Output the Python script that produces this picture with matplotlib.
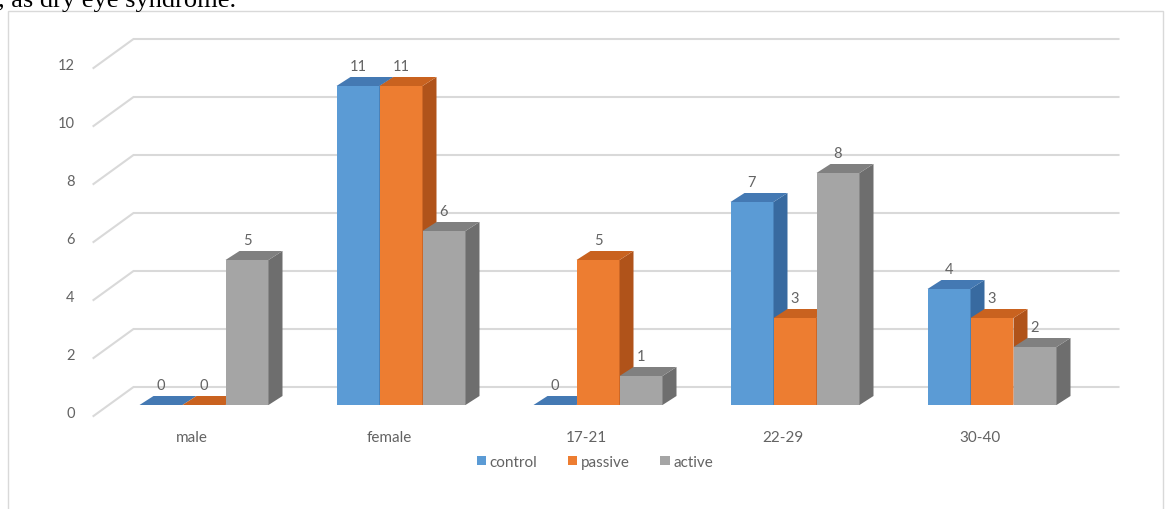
import matplotlib
matplotlib.use('Agg')
import matplotlib.pyplot as plt
from matplotlib.patches import Polygon, Rectangle, Patch

# ---- data ----
categories = ['male', 'female', '17-21', '22-29', '30-40']
series_names = ['control', 'passive', 'active']
control = [0, 11, 0, 7, 4]
passive = [0, 11, 5, 3, 3]
active = [5, 6, 1, 8, 2]
yticks = [0, 2, 4, 6, 8, 10, 12]

series = [control, passive, active]
front_colors = ['#5B9BD5', '#ED7D31', '#A5A5A5']
top_colors = ['#4479B3', '#C9621F', '#808080']
side_colors = ['#386AA0', '#B0531A', '#6E6E6E']
grid_color = '#D9D9D9'
text_color = '#636363'

plt.rcParams['font.family'] = ['Lato', 'DejaVu Sans']

W, H = 1168, 510
DPI = 100
fig = plt.figure(figsize=(W / DPI, H / DPI), dpi=DPI)
fig.patch.set_facecolor('white')

PX_X = 197.0   # pixels per category
PX_Y = 29.0    # pixels per value unit
X_LEFT = 93.5  # wall front edge (px)
Y_ZERO = 417   # value 0 at the front edge (px from top)

ax = fig.add_axes([X_LEFT / W, (H - Y_ZERO) / H, 5 * PX_X / W, 12 * PX_Y / H])
ax.set_xlim(-0.5, 4.5)
ax.set_ylim(0, 12)
ax.axis('off')


def dx(p):
    return p / PX_X


def dy(p):
    return p / PX_Y


FLOOR_DX, FLOOR_DY = dx(40), dy(29)
BAR_FX, BAR_FY = dx(12), dy(11)
BAR_DX, BAR_DY = dx(14), dy(9)
BAR_W = dx(43)

# gridlines (left wall diagonal + back wall)
for v in yticks:
    ax.plot([-0.5, -0.5 + FLOOR_DX, 4.5 + FLOOR_DX], [v, v + FLOOR_DY, v + FLOOR_DY],
            color=grid_color, lw=1.5, clip_on=False, zorder=1)
    ax.text(-0.5 - dx(19), v + dy(3), str(v), ha='right', va='center',
            color=text_color, fontsize=10.5)

# 3D bars
z = 2.0
for i in range(len(categories)):
    for j, vals in enumerate(series):
        v = vals[i]
        xl = i - 1.5 * BAR_W + j * BAR_W + BAR_FX
        y0 = BAR_FY
        yt = v + BAR_FY
        if v > 0:
            ax.bar(xl, v, width=BAR_W, bottom=y0, align='edge',
                   color=front_colors[j], lw=0, zorder=z, clip_on=False)
            side = Polygon([(xl + BAR_W, y0), (xl + BAR_W, yt),
                            (xl + BAR_W + BAR_DX, yt + BAR_DY),
                            (xl + BAR_W + BAR_DX, y0 + BAR_DY)],
                           closed=True, facecolor=side_colors[j], lw=0,
                           zorder=z, clip_on=False)
            ax.add_patch(side)
        top = Polygon([(xl, yt), (xl + BAR_W, yt),
                       (xl + BAR_W + BAR_DX, yt + BAR_DY),
                       (xl + BAR_DX, yt + BAR_DY)],
                      closed=True, facecolor=top_colors[j], lw=0,
                      zorder=z + 0.001, clip_on=False)
        ax.add_patch(top)
        ax.text(xl + BAR_W / 2, yt + dy(20), str(v), ha='center', va='center',
                color=text_color, fontsize=10.5, zorder=10)
        z += 0.01

# category labels
for i, c in enumerate(categories):
    ax.text(i, -dy(21), c, ha='center', va='center', color=text_color, fontsize=11)

# legend
handles = [Patch(facecolor=front_colors[k], label=series_names[k]) for k in range(3)]
fig.legend(handles=handles, loc='center', bbox_to_anchor=(595 / W, 1 - 463 / H),
           ncol=3, frameon=False, handlelength=0.6, handleheight=0.6,
           handletextpad=0.25, columnspacing=2.0, fontsize=11, labelcolor=text_color)

# chart frame
fig.add_artist(Rectangle((8 / W, -0.1), (1163 - 8) / W, (H - 12) / H + 0.1,
                         transform=fig.transFigure, fill=False,
                         edgecolor='#D9D9D9', lw=1.0))

# cropped text from the page above
fig.text(236 / W, 1 - 7 / H, 'g, as dry eye syndrome.', ha='right', va='baseline',
         fontsize=19, family='Liberation Serif', color='black')

fig.savefig('out.png', dpi=DPI, facecolor='white')
